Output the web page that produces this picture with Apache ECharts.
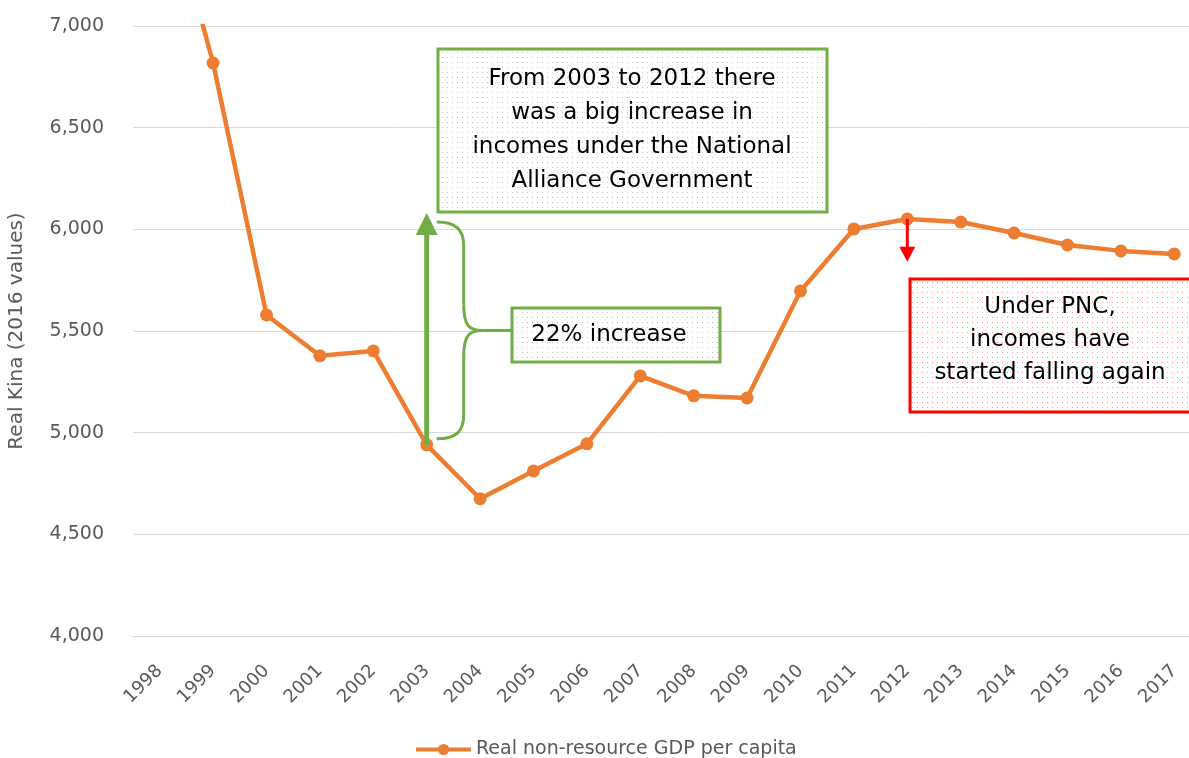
<!DOCTYPE html>
<html><head><meta charset="utf-8">
<script src="https://cdn.jsdelivr.net/npm/echarts@6/dist/echarts.min.js"></script>
<style>html,body{margin:0;padding:0;background:#fff}#c{width:1189px;height:758px}</style>
</head><body><div id="c"></div>
<script>
const years = ['1998','1999','2000','2001','2002','2003','2004','2005','2006','2007','2008','2009','2010','2011','2012','2013','2014','2015','2016','2017'];
const gdpPerCapita = [7790,6818,5579,5378,5402,4940,4675,4812,4945,5279,5181,5171,5697,6002,6051,6036,5982,5923,5894,5879];
const seriesName = 'Real non-resource GDP per capita';
const yAxisTitle = 'Real Kina (2016 values)';
const yMin = 4000, yMax = 7000, yStep = 500;
const noteTop = ['From 2003 to 2012 there','was a big increase in','incomes under the National','Alliance Government'];
const noteMid = ['22% increase'];
const noteRed = ['Under PNC,','incomes have','started falling again'];

const GREEN = '#70AD47', RED = '#FF0000', ORANGE = '#ED7D31', GRAY = '#595959';
const FONT = '"DejaVu Sans", sans-serif';

function dots(color){
  const c = document.createElement('canvas'); c.width = 5; c.height = 5;
  const g = c.getContext('2d'); g.fillStyle = '#fff'; g.fillRect(0,0,5,5);
  g.fillStyle = color; g.fillRect(2,2,1,1); return c;
}

const chart = echarts.init(document.getElementById('c'), null, {renderer:'canvas'});
chart.setOption({
  animation:false,
  grid:{left:133, right:-12, top:26, bottom:122, outerBoundsMode:'none', containLabel:false},
  legend:{top:735, left:409, itemWidth:55, itemHeight:14, itemGap:5,
    lineStyle:{width:4},
    textStyle:{color:GRAY, fontSize:19, fontFamily:FONT}, data:[seriesName]},
  xAxis:{type:'category', data:years, boundaryGap:true,
    axisLine:{show:true, lineStyle:{color:'#D9D9D9', width:1}}, axisTick:{show:false},
    axisLabel:{rotate:45, color:GRAY, fontSize:18, fontFamily:FONT, margin:32, interval:0}},
  yAxis:{type:'value', min:yMin, max:yMax, interval:yStep,
    name:yAxisTitle, nameLocation:'middle', nameRotate:90, nameGap:106,
    nameTextStyle:{color:GRAY, fontSize:20, fontFamily:FONT},
    axisLine:{show:false}, axisTick:{show:false},
    splitLine:{lineStyle:{color:'#D9D9D9', width:1}},
    axisLabel:{color:GRAY, fontSize:19, fontFamily:FONT, margin:29,
      formatter:v=>v.toLocaleString('en-US')}},
  series:[{type:'line', name:seriesName, data:gdpPerCapita, clip:true,
    symbol:'circle', symbolSize:13, showAllSymbol:true,
    lineStyle:{color:ORANGE, width:4.5}, itemStyle:{color:ORANGE}}]
});

function P(i, v){ return chart.convertToPixel({seriesIndex:0}, [i, v]); }
const i03 = years.indexOf('2003'), i12 = years.indexOf('2012');
const a03 = P(i03, gdpPerCapita[i03]);
const arrowTop = P(i03, 6080);
const a12 = P(i12, gdpPerCapita[i12]);
const redEnd = P(i12, 5840);

const els = [];
// green arrow
els.push({type:'line', shape:{x1:a03[0], y1:a03[1], x2:arrowTop[0], y2:arrowTop[1]+18}, style:{stroke:GREEN, lineWidth:5}, z:10});
els.push({type:'polygon', shape:{points:[[arrowTop[0]-11, arrowTop[1]+22],[arrowTop[0]+11, arrowTop[1]+22],[arrowTop[0], arrowTop[1]]]}, style:{fill:GREEN}, z:10});
// brace
const bx0 = a03[0]+10, bx1 = bx0+27, tip = bx0+46, by0 = arrowTop[1]+9, by1 = a03[1]-6;
const bm = (by0+by1)/2;
const bs = {stroke:GREEN, lineWidth:3, fill:null};
els.push({type:'bezierCurve', shape:{x1:bx0,y1:by0,cpx1:bx0+20,cpy1:by0,cpx2:bx1,cpy2:by0+8,x2:bx1,y2:by0+24}, style:bs, z:10});
els.push({type:'line', shape:{x1:bx1,y1:by0+24,x2:bx1,y2:bm-26}, style:bs, z:10});
els.push({type:'bezierCurve', shape:{x1:bx1,y1:bm-26,cpx1:bx1,cpy1:bm-4,cpx2:bx1+6,cpy2:bm,x2:tip,y2:bm}, style:bs, z:10});
els.push({type:'line', shape:{x1:tip,y1:bm,x2:tip+30,y2:bm}, style:bs, z:10});
els.push({type:'bezierCurve', shape:{x1:tip,y1:bm,cpx1:bx1+6,cpy1:bm,cpx2:bx1,cpy2:bm+4,x2:bx1,y2:bm+26}, style:bs, z:10});
els.push({type:'line', shape:{x1:bx1,y1:bm+26,x2:bx1,y2:by1-24}, style:bs, z:10});
els.push({type:'bezierCurve', shape:{x1:bx1,y1:by1-24,cpx1:bx1,cpy1:by1-8,cpx2:bx0+20,cpy2:by1,x2:bx0,y2:by1}, style:bs, z:10});
// boxes
els.push({type:'rect', shape:{x:438, y:49, width:389, height:163}, style:{fill:{image:dots('#c8c8c8'), repeat:'repeat'}, stroke:GREEN, lineWidth:3}, z:11});
noteTop.forEach((t,k)=>els.push({type:'text', x:632, y:79+k*34, style:{text:t, fill:'#000', font:'23px '+FONT, textAlign:'center', textVerticalAlign:'middle'}, z:12}));
els.push({type:'rect', shape:{x:512, y:308, width:208, height:54}, style:{fill:{image:dots('#c8c8c8'), repeat:'repeat'}, stroke:GREEN, lineWidth:3}, z:11});
els.push({type:'text', x:609, y:335, style:{text:noteMid[0], fill:'#000', font:'23px '+FONT, textAlign:'center', textVerticalAlign:'middle'}, z:12});
// red arrow
els.push({type:'line', shape:{x1:a12[0], y1:a12[1], x2:redEnd[0], y2:redEnd[1]-12}, style:{stroke:RED, lineWidth:3}, z:10});
els.push({type:'polygon', shape:{points:[[redEnd[0]-8, redEnd[1]-15],[redEnd[0]+8, redEnd[1]-15],[redEnd[0], redEnd[1]]]}, style:{fill:RED}, z:10});
els.push({type:'rect', shape:{x:910, y:279, width:300, height:133}, style:{fill:{image:dots('#ff9a9a'), repeat:'repeat'}, stroke:RED, lineWidth:3}, z:11});
noteRed.forEach((t,k)=>els.push({type:'text', x:1050, y:307+k*33, style:{text:t, fill:'#000', font:'23px '+FONT, textAlign:'center', textVerticalAlign:'middle'}, z:12}));
chart.setOption({graphic:{elements:els}});
</script></body></html>
